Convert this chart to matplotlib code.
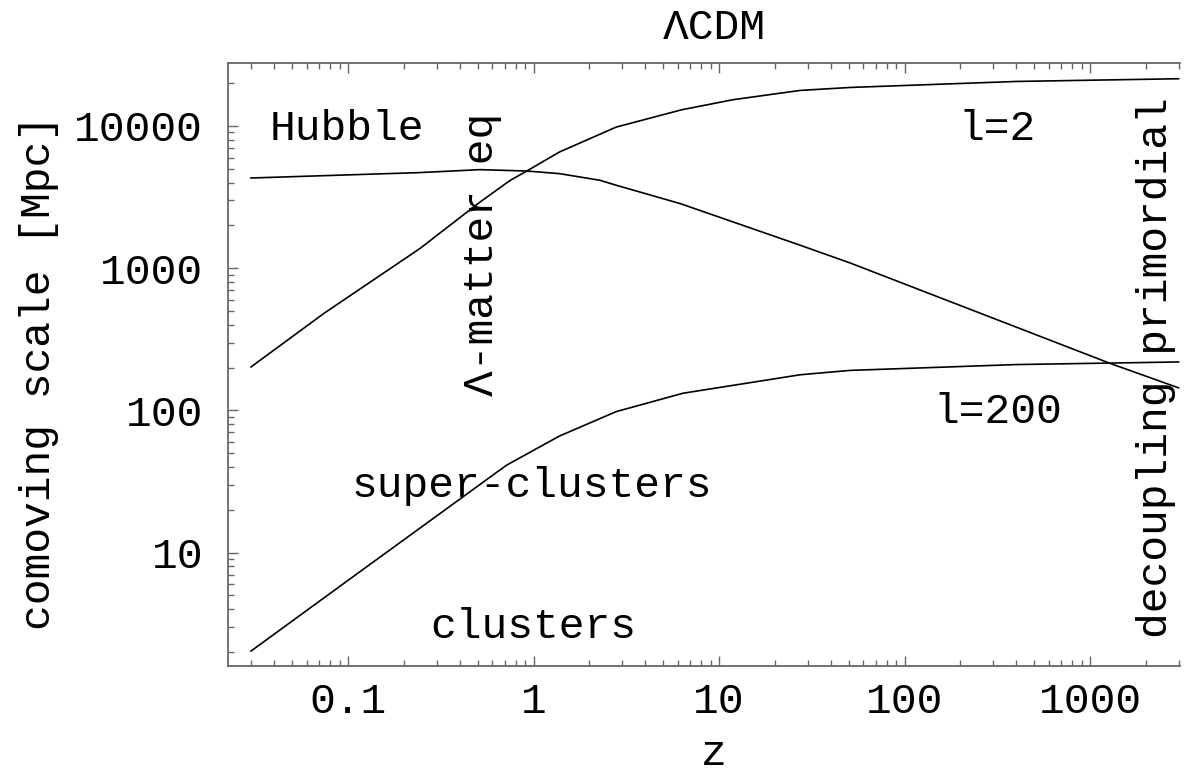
import matplotlib
matplotlib.use("Agg")
import matplotlib.pyplot as plt
from matplotlib.ticker import FixedLocator, LogLocator, NullFormatter

plt.rcParams['font.family'] = ['Liberation Mono', 'DejaVu Sans']
plt.rcParams['font.size'] = 31

# comoving scales vs redshift
z_hubble = [0.03, 0.244, 0.515, 0.92, 1.38, 2.28, 2.79, 6.2, 27.4, 50.8, 1283, 3000]
r_hubble = [4305, 4700, 4930, 4820, 4620, 4150, 3830, 2840, 1449, 1089, 214, 144]

z_l2 = [0.03, 0.074, 0.244, 0.515, 0.75, 0.92, 1.38, 2.79, 6.3, 11.9, 27.4, 50.8, 403, 3000]
r_l2 = [202, 480, 1374, 2918, 4150, 4820, 6560, 9820, 13000, 15300, 17780, 18650, 20560, 21480]

z_l200 = [0.03, 0.107, 0.716, 1.38, 2.79, 6.4, 27.4, 50.8, 403, 3000]
r_l200 = [2.03, 6.8, 41.2, 66, 98, 132, 178, 191, 210, 219]

xticks = [0.1, 1, 10, 100, 1000]
xticklabels = ['0.1', '1', '10', '100', '1000']
yticks = [10, 100, 1000, 10000]
yticklabels = ['10', '100', '1000', '10000']

W, H = 1189, 773
fig = plt.figure(figsize=(W / 100, H / 100), dpi=100)
ax = fig.add_axes([228 / W, 1 - 665.7 / H, (1180 - 228) / W, (665.7 - 63.3) / H])
ax.set_xscale('log')
ax.set_yscale('log')

for zz, rr in [(z_hubble, r_hubble), (z_l2, r_l2), (z_l200, r_l200)]:
    ax.plot(zz, rr, color='black', lw=1.2)

ax.set_xlim(10 ** -1.647, 10 ** 3.485)
ax.set_ylim(10 ** 0.2045, 10 ** 4.4406)

# frame: left, bottom, top only
frame_col = '#666666'
for s in ['left', 'bottom', 'top']:
    ax.spines[s].set_color(frame_col)
    ax.spines[s].set_linewidth(1.3)
ax.spines['right'].set_visible(False)

ax.xaxis.set_major_locator(FixedLocator(xticks))
ax.set_xticklabels(xticklabels)
ax.yaxis.set_major_locator(FixedLocator(yticks))
ax.set_yticklabels(yticklabels)
ax.xaxis.set_minor_locator(LogLocator(base=10, subs=range(2, 10), numticks=20))
ax.yaxis.set_minor_locator(LogLocator(base=10, subs=range(2, 10), numticks=20))
ax.xaxis.set_minor_formatter(NullFormatter())
ax.yaxis.set_minor_formatter(NullFormatter())
ax.tick_params(which='both', direction='in', top=True, right=False,
               color=frame_col, width=1.0)
ax.tick_params(which='major', length=7)
ax.tick_params(which='minor', length=4)
ax.tick_params(axis='y', pad=18)
ax.tick_params(axis='x', pad=12)

# titles
fig.text(714.5 / W, 1 - 39.3 / H, 'ΛCDM', ha='center', va='baseline')
fig.text(714 / W, 1 - 765 / H, 'z', ha='center', va='baseline')
fig.text(50 / W, 1 - 372.5 / H, 'comoving scale [Mpc]', rotation=90,
         rotation_mode='anchor', ha='center', va='baseline')

# annotations
ax.text(0.0988, 7925, 'Hubble', ha='center', va='baseline')
ax.text(314, 7925, 'l=2', ha='center', va='baseline')
ax.text(317, 81.3, 'l=200', ha='center', va='baseline')
ax.text(0.982, 24.5, 'super-clusters', ha='center', va='baseline')
ax.text(1.0, 2.51, 'clusters', ha='center', va='baseline')
ax.text(0.605, 1252, 'Λ-matter eq', rotation=90, rotation_mode='anchor',
        ha='center', va='baseline')
ax.text(2600, 201, 'decoupling primordial', rotation=90, rotation_mode='anchor',
        ha='center', va='baseline')

fig.savefig('out.png', dpi=100)
